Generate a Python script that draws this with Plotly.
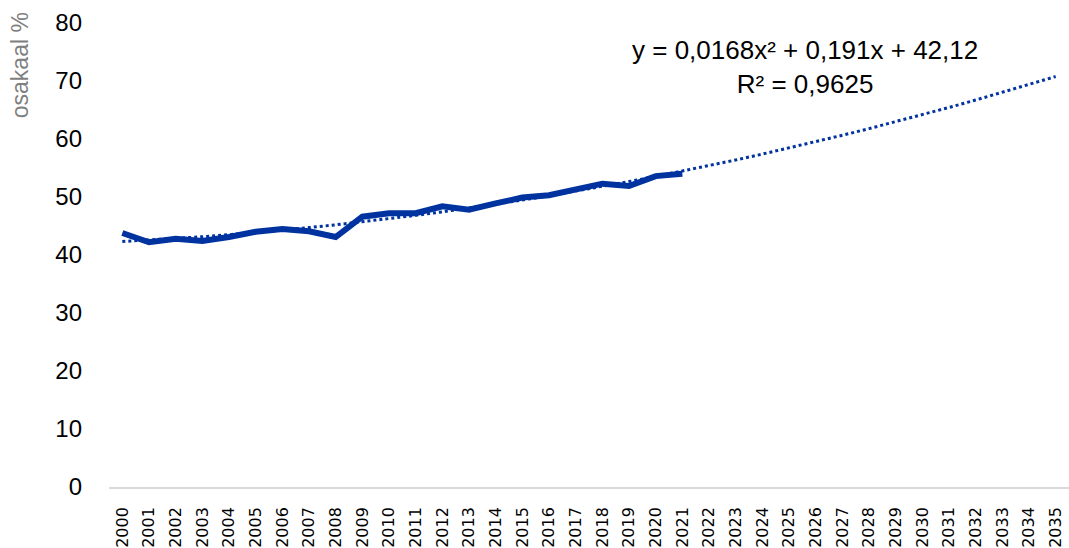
import plotly.graph_objects as go

years = [str(y) for y in range(2000, 2036)]
actual_years = years[:22]
share = [43.8, 42.2, 42.8, 42.4, 43.1, 44.0, 44.5, 44.1, 43.1, 46.6, 47.2,
         47.2, 48.4, 47.8, 48.9, 49.9, 50.3, 51.4, 52.3, 51.9, 53.6, 54.0]

# Trendline coefficients as printed on the chart (x = 1 for 2000)
coef_a, coef_b, coef_c = 0.0168, 0.191, 42.12
trend = [coef_a * i**2 + coef_b * i + coef_c for i in range(1, len(years) + 1)]

BLUE = "#0033a0"
FONT = "Liberation Sans"

fig = go.Figure()
fig.add_trace(go.Scatter(x=years, y=trend, mode="lines",
                         line=dict(color=BLUE, width=3, dash="dot"),
                         showlegend=False, hoverinfo="skip"))
fig.add_trace(go.Scatter(x=actual_years, y=share, mode="lines",
                         line=dict(color=BLUE, width=6),
                         showlegend=False))

fig.update_layout(
    width=1069, height=548,
    margin=dict(l=109, r=0, t=23, b=61, autoexpand=False),
    paper_bgcolor="white", plot_bgcolor="white",
    font=dict(family=FONT, color="#000000"),
    xaxis=dict(type="category", categoryorder="array", categoryarray=years,
               range=[-0.5, 35.5], showgrid=False, zeroline=False,
               showline=True, linecolor="#d9d9d9", linewidth=1.5, automargin=False,
               ticks="", tickangle=-90,
               tickfont=dict(size=16, family="DejaVu Sans", color="#000"),
               ticklabelstandoff=12),
    yaxis=dict(range=[0, 80], dtick=10, showgrid=False, zeroline=False, automargin=False,
               showline=False, ticks="", tickfont=dict(size=24, family=FONT, color="#000"),
               ticklabelstandoff=26),
    annotations=[
        dict(text="osakaal %", xref="paper", yref="paper", x=-0.0927, y=0.909,
             xanchor="center", yanchor="middle", textangle=-90, showarrow=False,
             font=dict(size=23, family=FONT, color="#7f7f7f")),
        dict(text="y = 0,0168x² + 0,191x + 42,12<br>R² = 0,9625",
             xref="paper", yref="paper", x=0.725, y=0.905,
             xanchor="center", yanchor="middle", showarrow=False, align="center",
             font=dict(size=26, family=FONT, color="#000")),
    ],
)

fig.write_html("out.html", config={"displayModeBar": False},
               post_script="document.body.style.margin='0';document.body.style.overflow='hidden';")
